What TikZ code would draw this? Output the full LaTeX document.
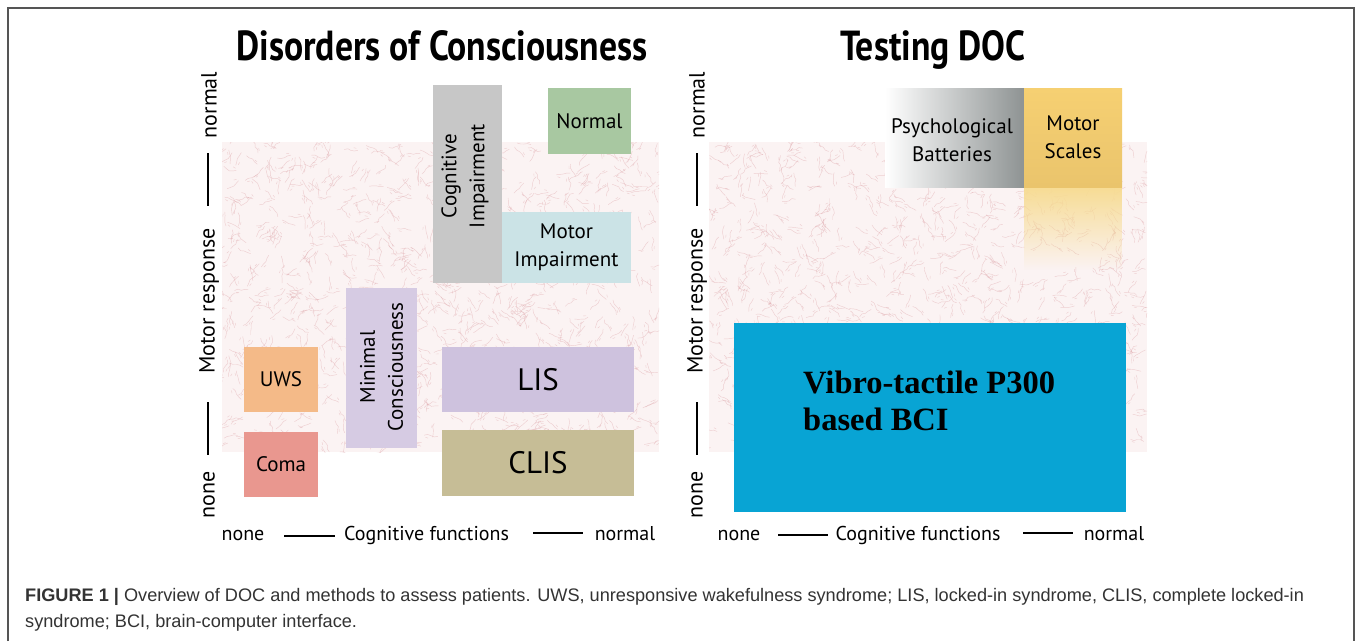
\documentclass[tikz,border=0pt]{standalone}
\usepackage{fontspec}
\usepackage{graphicx}
\setmainfont{Liberation Sans}
\newfontfamily\dsf{PT Sans}
\newfontfamily\dtf[FakeStretch=0.85]{PT Sans}
\newfontfamily\tnr{Liberation Serif}
\usetikzlibrary{fadings}
\definecolor{texbg}{HTML}{FBF3F3}
\definecolor{texln}{HTML}{DDA3A8}
\definecolor{cogc}{HTML}{C7C7C7}
\definecolor{normc}{HTML}{A8C8A1}
\definecolor{motc}{HTML}{CBE3E6}
\definecolor{minc}{HTML}{D6CBE3}
\definecolor{uwsc}{HTML}{F4BA88}
\definecolor{comac}{HTML}{E9978F}
\definecolor{lisc}{HTML}{CEC2DE}
\definecolor{clisc}{HTML}{C6BD96}
\definecolor{psyc}{HTML}{8E9393}
\definecolor{msc}{HTML}{F6D072}
\definecolor{msd}{HTML}{EAC46C}
\definecolor{msf}{HTML}{F7DC94}
\definecolor{bcic}{HTML}{08A4D4}
\definecolor{capc}{HTML}{333333}
\definecolor{framec}{HTML}{555555}
\tikzfading[name=fadedown, top color=transparent!0, bottom color=transparent!100]
\tikzset{
  box/.style={inner sep=0pt, outer sep=0pt, align=center, text=black,
    font=\dsf\fontsize{21}{28}\selectfont},
  axislbl/.style={inner sep=0pt, text=black, font=\dsf\fontsize{20}{24}\selectfont},
  vaxislbl/.style={inner sep=0pt, text=black, rotate=90, font=\dsf\fontsize{22}{26}\selectfont},
  axisline/.style={draw=black, line width=1.3pt},
  titlelbl/.style={inner sep=0pt, anchor=base, text=black,
    font=\dtf\bfseries\fontsize{42}{46}\selectfont},
  caplbl/.style={inner sep=0pt, anchor=base west, text=capc,
    font=\fontsize{18.15}{26}\selectfont},
  texline/.style={draw=texln, line width=0.45pt, opacity=0.45, line cap=round, line join=round},
}
\newcommand{\texturerect}[4]{%
  \begin{scope}
    \clip (#1,#2) rectangle (#3,#4);
    \fill[texbg] (#1,#2) rectangle (#3,#4);
    \foreach \i in {1,...,900}{
      \pgfmathsetmacro\px{#1+(#3-#1)*rnd}
      \pgfmathsetmacro\py{#2+(#4-#2)*rnd}
      \pgfmathsetmacro\an{360*rnd}
      \draw[texline] (\px,\py) -- ++({\an+30*rand}:3.5) -- ++({\an+30*rand}:3.5)
        -- ++({\an+30*rand}:3.5) -- ++({\an+30*rand}:3.5)
        (\px,\py) ++({\an+50}:2.5) -- ++({\an+10}:2.5);
    }
  \end{scope}}
\begin{document}
\begin{tikzpicture}[x=1pt,y=-1pt]
\useasboundingbox (0,0) rectangle (1357,641);
\fill[white] (0,0) rectangle (1357,641);
\draw[framec, line width=1.3pt] (8,641) -- (8,8) -- (1354,8) -- (1354,641);
\pgfmathsetseed{11}
\texturerect{222}{142}{659}{452}
\texturerect{709}{142}{1147}{452}

% titles
\node[titlelbl] (t1) at (442,60) {Disorders of Consciousness};
\node[titlelbl] (t2) at (933,60) {Testing DOC};

% left panel boxes
\node[box, fill=cogc, minimum width=69, minimum height=198] (cog) at (467.5,184) {};
\node[box, rotate=90] (cogt) at (465,176) {Cognitive\\Impairment};
\node[box, fill=normc, minimum width=83, minimum height=66] (normal) at (589.5,121) {Normal};
\node[box, fill=motc, minimum width=129, minimum height=71] (mot) at (566.5,247.5) {Motor\\Impairment};
\node[box, fill=minc, minimum width=71, minimum height=160] (minb) at (381.5,368) {};
\node[box, rotate=90] (mint) at (381.5,367) {Minimal\\Consciousness};
\node[box, fill=uwsc, minimum width=74, minimum height=65] (uws) at (281,379.5) {UWS};
\node[box, fill=comac, minimum width=74, minimum height=65] (coma) at (281,464.5) {Coma};
\node[box, fill=lisc, minimum width=192, minimum height=65, font=\dsf\fontsize{31}{34}\selectfont] (lis) at (538,379.5) {LIS};
\node[box, fill=clisc, minimum width=192, minimum height=66, font=\dsf\fontsize{31}{34}\selectfont] (clis) at (538,463) {CLIS};

% right panel boxes
\fill[msf, path fading=fadedown] (1024,187) rectangle (1122,270);
\node[box, shade, left color=white, middle color=psyc, right color=psyc, minimum width=139, minimum height=99] (psy) at (954.5,137.5) {};
\node[box] (psyt) at (952,140) {Psychological\\Batteries};
\node[box, shade, top color=msc, bottom color=msd, minimum width=98, minimum height=99] (ms) at (1073,137.5) {Motor\\Scales};
\node[box, fill=bcic, minimum width=392, minimum height=189] (bci) at (930,417.5) {};
\node[inner sep=0pt, anchor=west, align=left, text=black, font=\tnr\bfseries\fontsize{32.5}{37}\selectfont] (bcit) at (803,401) {Vibro-tactile P300\\based BCI};

% left axes
\node[axislbl, anchor=base] (nxl) at (243,540) {none};
\node[axislbl, anchor=base] (cxl) at (426.5,540) {Cognitive functions};
\node[axislbl, anchor=base] (mxl) at (625,540) {normal};
\draw[axisline] (284,536) -- (335,536);
\draw[axisline] (533,533) -- (583,533);
\node[vaxislbl] (nyl) at (209,495) {none};
\node[vaxislbl] (ryl) at (209,301) {Motor response};
\node[vaxislbl] (myl) at (209,105) {normal};
\draw[axisline] (208,402) -- (208,455);
\draw[axisline] (208,153) -- (208,206);

% right axes
\node[axislbl, anchor=base] (nxr) at (739,540) {none};
\node[axislbl, anchor=base] (cxr) at (918,540) {Cognitive functions};
\node[axislbl, anchor=base] (mxr) at (1114,540) {normal};
\draw[axisline] (778,535) -- (828,535);
\draw[axisline] (1023,533) -- (1073,533);
\node[vaxislbl] (nyr) at (697,495) {none};
\node[vaxislbl] (ryr) at (697,301) {Motor response};
\node[vaxislbl] (myr) at (697,105) {normal};
\draw[axisline] (697,402) -- (697,455);
\draw[axisline] (697,153) -- (697,206);

% caption
\node[caplbl] (cap1) at (25,601) {\textbf{FIGURE 1 |} Overview of DOC and methods to assess patients. UWS, unresponsive wakefulness syndrome; LIS, locked-in syndrome, CLIS, complete locked-in};
\node[caplbl] (cap2) at (25,627) {syndrome; BCI, brain-computer interface.};
\end{tikzpicture}
\end{document}
